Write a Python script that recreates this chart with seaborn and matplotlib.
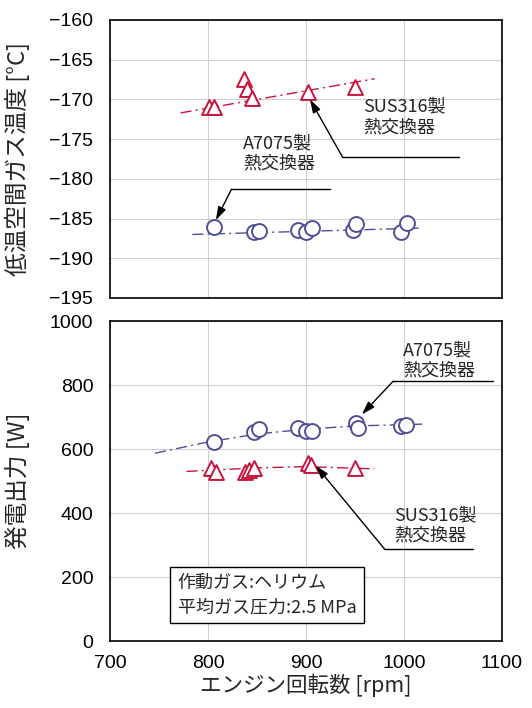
import numpy as np
import pandas as pd
import matplotlib
matplotlib.use("Agg")
import matplotlib.pyplot as plt
from matplotlib import font_manager as fm
import seaborn as sns

# ---- data ----
# Top panel: low-temperature space gas temperature [°C]
sus_t_rpm = [801, 806, 837, 840, 845, 902, 950]
sus_t_temp = [-171.0, -171.0, -167.4, -168.7, -169.8, -169.1, -168.5]
a70_t_rpm = [806, 847, 852, 892, 900, 906, 948, 951, 997, 1003]
a70_t_temp = [-186.1, -186.7, -186.6, -186.4, -186.7, -186.2, -186.5, -185.7, -186.7, -185.6]
sus_t_fit_rpm = [772, 970]
sus_t_fit_temp = [-171.7, -167.4]
a70_t_fit_rpm = [784, 1018]
a70_t_fit_temp = [-187.0, -186.2]

# Bottom panel: generated power [W]
a70_p_rpm = [806, 847, 852, 892, 900, 906, 951, 953, 997, 1002]
a70_p_w = [623, 652, 662, 665, 656, 657, 682, 665, 672, 675]
sus_p_rpm = [803, 808, 838, 842, 847, 902, 905, 950]
sus_p_w = [541, 528, 528, 534, 540, 556, 550, 540]
a70_p_fit_rpm = [746, 800, 850, 900, 950, 1021]
a70_p_fit_w = [587, 622, 647, 662, 672, 678]
sus_p_fit_rpm = [778, 850, 900, 970]
sus_p_fit_w = [530, 541, 545, 538]

x_ticks = [700, 800, 900, 1000, 1100]
t_ticks = [-160, -165, -170, -175, -180, -185, -190, -195]
p_ticks = [0, 200, 400, 600, 800, 1000]

RED = "#c8143c"
BLUE = "#4f4f96"

sns.set_style("white")
plt.rcParams['font.family'] = ['Liberation Sans', 'Noto Sans CJK JP', 'DejaVu Sans']
JP = ['Noto Sans CJK JP', 'DejaVu Sans']

# locate the regular Liberation Sans file explicitly (avoid Narrow variant)
tick_fp = None
for f in fm.findSystemFonts():
    if f.endswith("LiberationSans-Regular.ttf"):
        tick_fp = fm.FontProperties(fname=f, size=14)
        break
if tick_fp is None:
    tick_fp = fm.FontProperties(family="DejaVu Sans", size=13)

fig = plt.figure(figsize=(5.32, 7.08), dpi=100)
ax1 = fig.add_axes([0.2068, 0.5791, 0.7368, 0.3927])
ax2 = fig.add_axes([0.2068, 0.0946, 0.7368, 0.4520])

def style_axes(ax):
    ax.set_xlim(700, 1100)
    ax.set_xticks(x_ticks)
    ax.grid(True, color="#d0d0d0", linewidth=0.8)
    for s in ax.spines.values():
        s.set_color("black")
        s.set_linewidth(1.2)
    ax.tick_params(direction="in", length=5, width=1.2, colors="black")
    ax.tick_params(axis="y", pad=12)
    ax.tick_params(axis="x", pad=10)
    ax.set_axisbelow(True)

def set_tick_font(ax):
    for lab in ax.get_xticklabels() + ax.get_yticklabels():
        lab.set_fontproperties(tick_fp)

def draw(ax, rpm, vals, marker, color, fit_x, fit_y):
    sns.lineplot(x=fit_x, y=fit_y, ax=ax, color=color, linewidth=1.0,
                 linestyle=(0, (8, 3, 1.5, 3)), estimator=None, sort=False)
    sns.scatterplot(x=rpm, y=vals, ax=ax, marker=marker, s=115,
                    facecolor="white", edgecolor=color, linewidth=1.4, zorder=3)

# top
draw(ax1, sus_t_rpm, sus_t_temp, "^", RED, sus_t_fit_rpm, sus_t_fit_temp)
draw(ax1, a70_t_rpm, a70_t_temp, "o", BLUE, a70_t_fit_rpm, a70_t_fit_temp)
style_axes(ax1)
ax1.set_ylim(-195, -160)
ax1.set_yticks(t_ticks)
ax1.set_yticklabels(["\u2212%d" % abs(v) for v in t_ticks])
ax1.tick_params(axis="x", labelbottom=False)
ax1.set_xlabel("")
ax1.set_ylabel("低温空間ガス温度 [°C]", family=JP, fontsize=17)
ax1.yaxis.set_label_coords(-0.205, 0.5)
set_tick_font(ax1)

arrow_kw = dict(arrowstyle="-|>,head_length=0.8,head_width=0.25", color="black", lw=1.0,
                shrinkA=0, shrinkB=0)
# SUS316 top annotation
ax1.plot([937, 1056], [-177.2, -177.2], color="black", lw=1.0)
ax1.annotate("", xy=(904, -170.0), xytext=(937, -177.2), arrowprops=arrow_kw)
ax1.text(958, -172.2, "SUS316製\n熱交換器", family=JP, fontsize=13, ha="left", va="center",
         linespacing=1.2)
# A7075 top annotation
ax1.plot([824, 924], [-181.3, -181.3], color="black", lw=1.0)
ax1.annotate("", xy=(808, -185.2), xytext=(824, -181.3), arrowprops=arrow_kw)
ax1.text(836, -176.8, "A7075製\n熱交換器", family=JP, fontsize=13, ha="left", va="center",
         linespacing=1.2)

# bottom
draw(ax2, a70_p_rpm, a70_p_w, "o", BLUE, a70_p_fit_rpm, a70_p_fit_w)
draw(ax2, sus_p_rpm, sus_p_w, "^", RED, sus_p_fit_rpm, sus_p_fit_w)
style_axes(ax2)
ax2.set_ylim(0, 1000)
ax2.set_yticks(p_ticks)
ax2.set_xlabel("エンジン回転数 [rpm]", family=JP, fontsize=15.5, labelpad=1)
ax2.set_ylabel("発電出力 [W]", family=JP, fontsize=17)
ax2.yaxis.set_label_coords(-0.205, 0.5)
set_tick_font(ax2)

ax2.plot([989, 1091], [812, 812], color="black", lw=1.0)
ax2.annotate("", xy=(957, 708), xytext=(989, 812), arrowprops=arrow_kw)
ax2.text(999, 877, "A7075製\n熱交換器", family=JP, fontsize=13, ha="left", va="center",
         linespacing=1.2)
ax2.plot([980, 1070], [288, 288], color="black", lw=1.0)
ax2.annotate("", xy=(910, 548), xytext=(980, 288), arrowprops=arrow_kw)
ax2.text(990, 361, "SUS316製\n熱交換器", family=JP, fontsize=13, ha="left", va="center",
         linespacing=1.2)

ax2.text(769, 144, "作動ガス:ヘリウム\n平均ガス圧力:2.5 MPa", family=JP, fontsize=13,
         ha="left", va="center", linespacing=1.45,
         bbox=dict(boxstyle="square,pad=0.4", facecolor="white", edgecolor="black", lw=1.0))

fig.savefig("out.png", dpi=100)
